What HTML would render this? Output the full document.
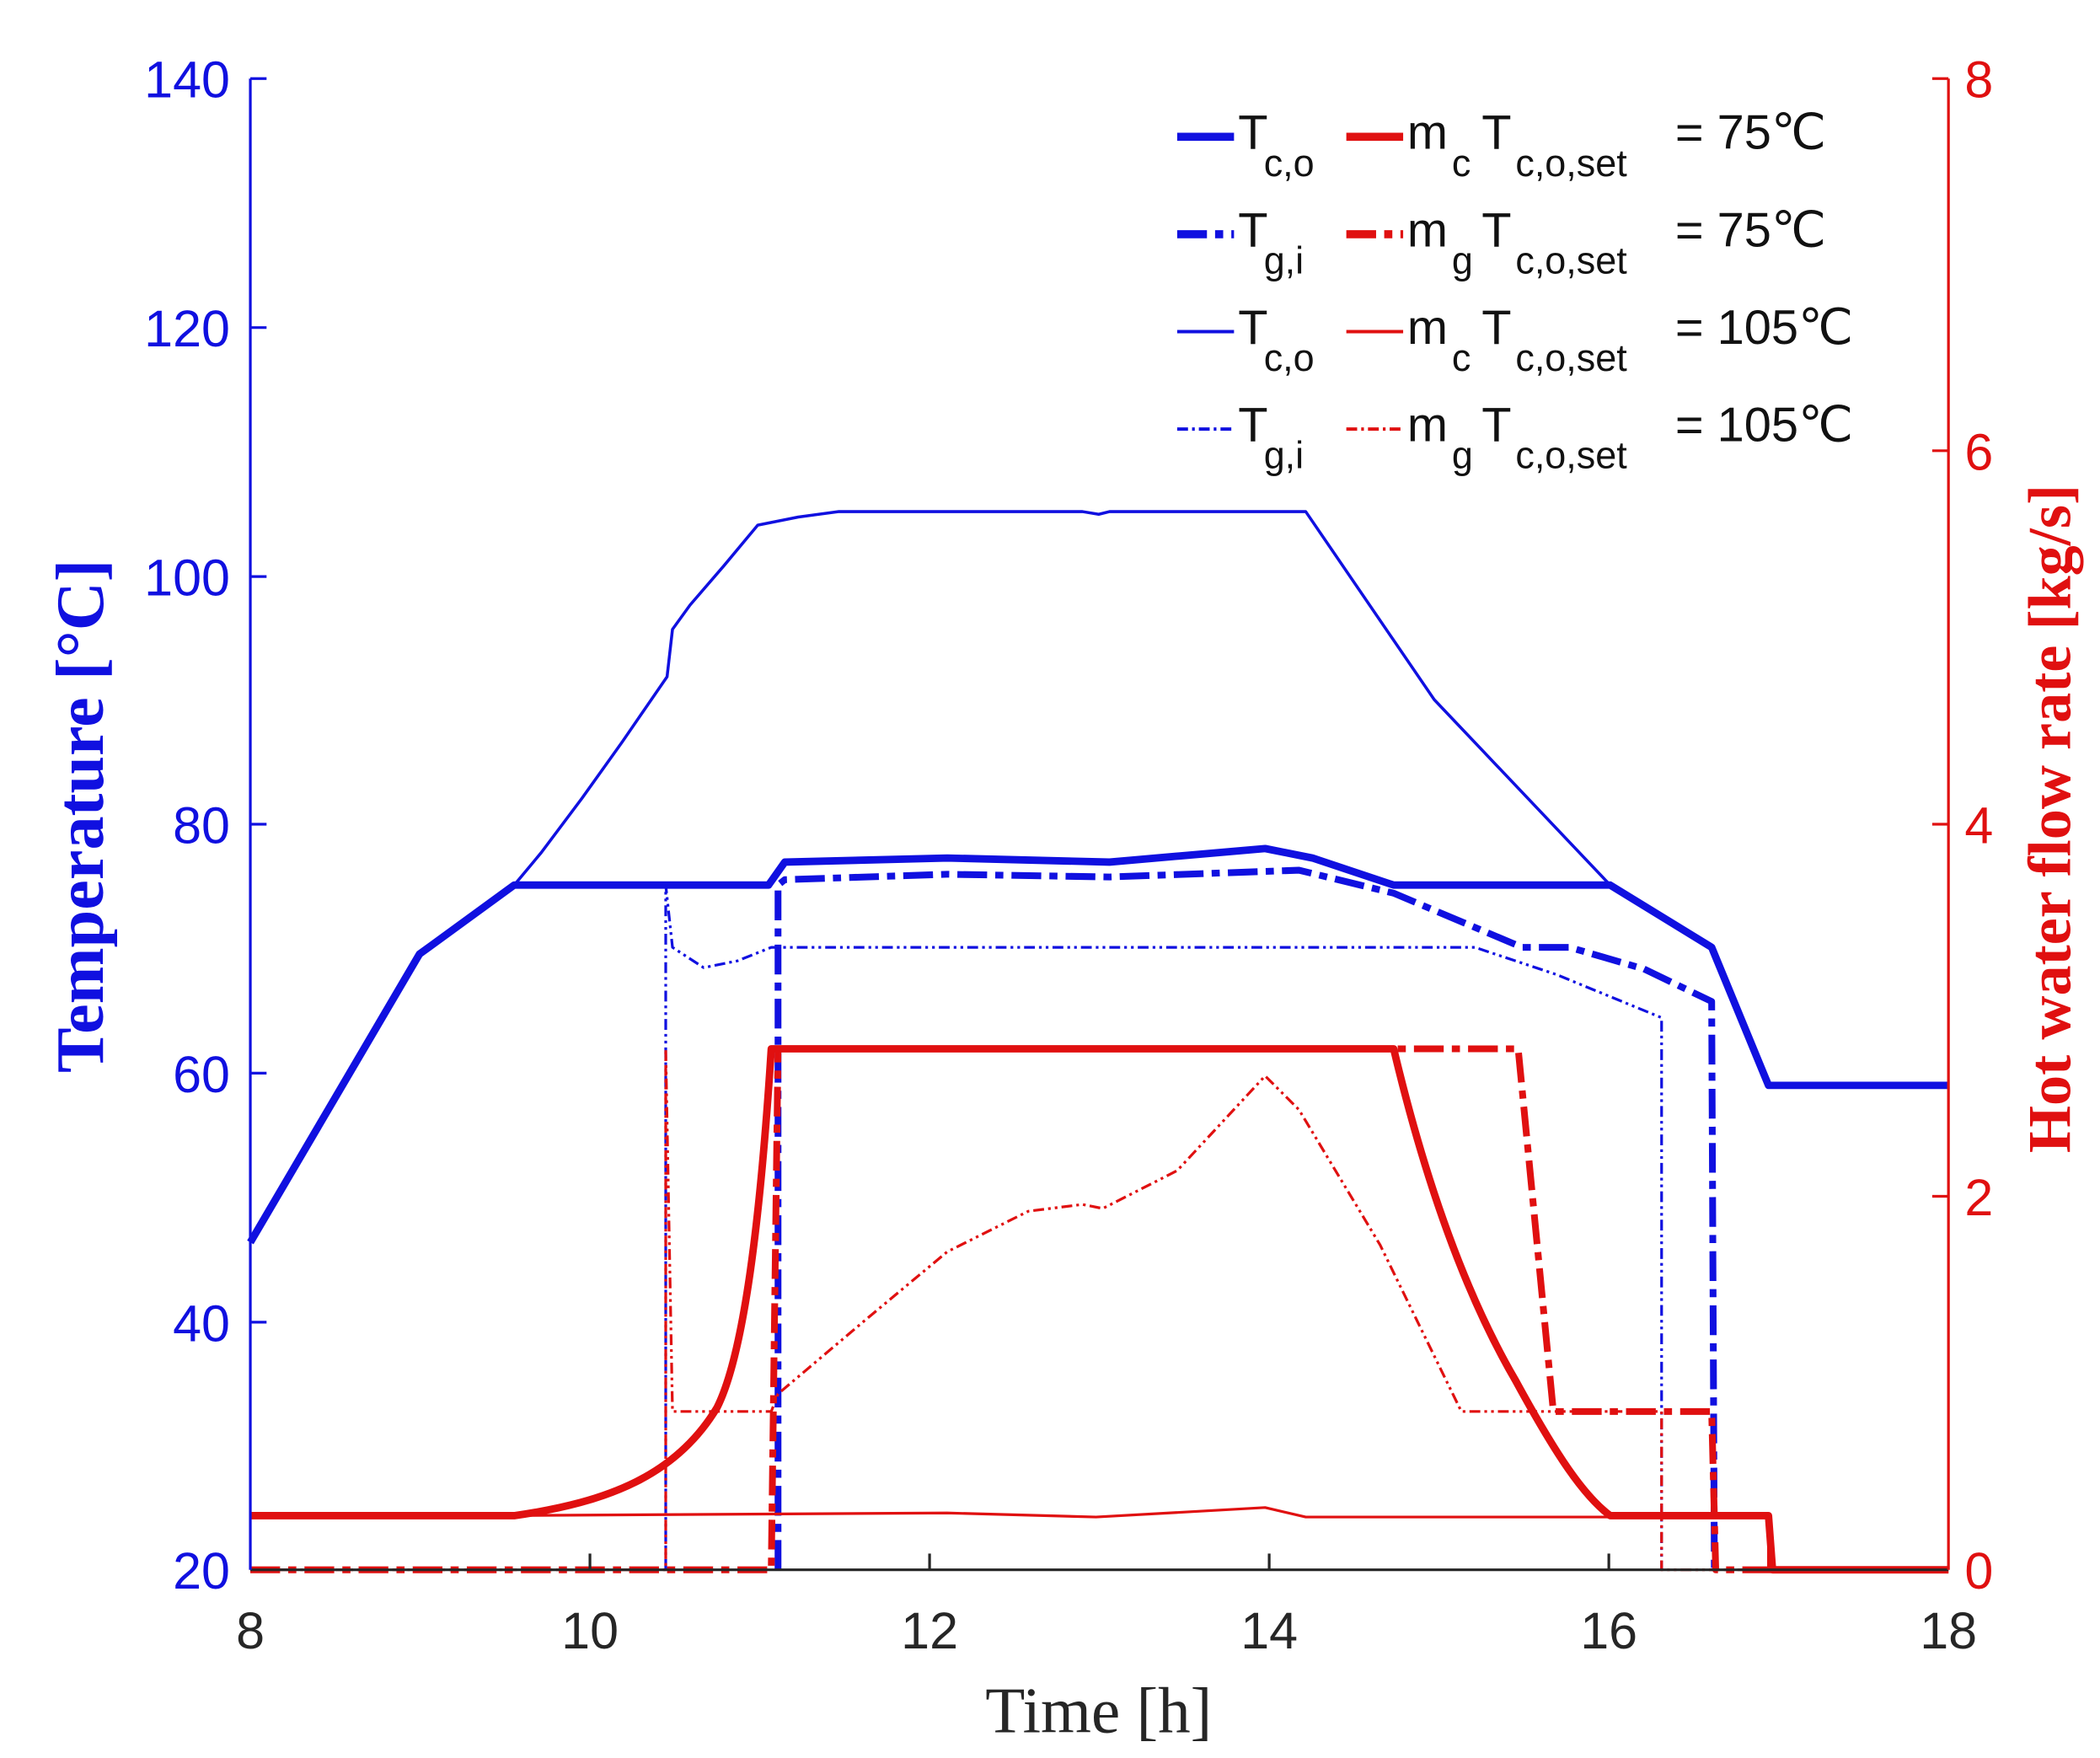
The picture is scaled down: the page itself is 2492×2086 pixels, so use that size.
<!DOCTYPE html>
<html><head><meta charset="utf-8"><style>
html,body{margin:0;padding:0;background:#fff}
svg{display:block}
text{font-family:"Liberation Sans",sans-serif}
.serif{font-family:"Liberation Serif",serif}
</style></head><body>
<svg width="2492" height="2086" viewBox="0 0 1552 1299" xmlns="http://www.w3.org/2000/svg">
<rect width="1552" height="1299" fill="#fff"/>
<g fill="none" stroke-linejoin="round">
<polyline stroke="#1010e0" stroke-width="2.2" points="185,918 310,705 380,654 400,630 430,590 460,548 493,500 497,465 510,447 535,418 560,388 590,382 620,378 800,378 812,380 820,378 965,378 1060,517 1190,654 1265,700 1307,802 1440,802"/>
<polyline stroke="#1010e0" stroke-width="2" stroke-dasharray="8,3,2,3,2,3" points="492,1160 492,654 497,700 520,715 545,710 570,700 1090,700 1150,720 1228,752 1228,1160"/>
<polyline stroke="#1010e0" stroke-width="5.5" points="185,918 310,705 380,654 568,654 580,637 700,634 820,637 935,627 970,634 1030,654 1190,654 1265,700 1307,802 1440,802"/>
<polyline stroke="#1010e0" stroke-width="5" stroke-dasharray="22,6,6,6" points="575,1160 575,654 580,650 700,646 820,648 960,643 1030,660 1125,700 1160,700 1215,716 1265,740 1267,1160"/>
<polyline stroke="#e01010" stroke-width="2" points="185,1121 700,1118 810,1121 935,1114 965,1121 1307,1121 1307,1160"/>
<polyline stroke="#e01010" stroke-width="2" stroke-dasharray="8,3,2,3,2,3" points="185,1160 492,1160 492,775 497,1043 570,1043 575,1030 640,975 700,925 760,895 800,890 815,893 870,865 935,795 960,820 1020,920 1080,1043 1228,1043 1228,1160 1440,1160"/>
<polyline stroke="#e01010" stroke-width="5" stroke-dasharray="22,6,6,6" points="185,1160 570,1160 575,775 1122,775 1148,1043 1265,1043 1268,1160 1440,1160"/>
<path stroke="#e01010" stroke-width="5.5" d="M185,1120 L380,1120 C450,1110 500,1090 530,1040 C550,1000 562,900 570,775 L1030,775 C1055,880 1085,960 1120,1020 C1150,1075 1170,1105 1190,1120 L1307,1120 L1310,1160 L1440,1160"/>
</g>
<line x1="185" y1="1160" x2="1440" y2="1160" stroke="#262626" stroke-width="2"/>
<line x1="185" y1="58" x2="185" y2="1160" stroke="#1010e0" stroke-width="2"/>
<line x1="1440" y1="58" x2="1440" y2="1160" stroke="#e01010" stroke-width="2"/>
<g stroke="#262626" stroke-width="2">
<line x1="436" y1="1160" x2="436" y2="1148"/><line x1="687" y1="1160" x2="687" y2="1148"/><line x1="938" y1="1160" x2="938" y2="1148"/><line x1="1189" y1="1160" x2="1189" y2="1148"/>
</g>
<g stroke="#1010e0" stroke-width="2">
<line x1="185" y1="58" x2="197" y2="58"/><line x1="185" y1="242" x2="197" y2="242"/><line x1="185" y1="426" x2="197" y2="426"/><line x1="185" y1="609" x2="197" y2="609"/><line x1="185" y1="793" x2="197" y2="793"/><line x1="185" y1="977" x2="197" y2="977"/>
</g>
<g stroke="#e01010" stroke-width="2">
<line x1="1428" y1="58" x2="1440" y2="58"/><line x1="1428" y1="333" x2="1440" y2="333"/><line x1="1428" y1="609" x2="1440" y2="609"/><line x1="1428" y1="884" x2="1440" y2="884"/>
</g>
<g fill="#1010e0" font-size="38" text-anchor="end">
<text x="170" y="72">140</text><text x="170" y="256">120</text><text x="170" y="440">100</text><text x="170" y="623">80</text><text x="170" y="807">60</text><text x="170" y="991">40</text><text x="170" y="1174">20</text>
</g>
<g fill="#e01010" font-size="38">
<text x="1452" y="72">8</text><text x="1452" y="347">6</text><text x="1452" y="623">4</text><text x="1452" y="898">2</text><text x="1452" y="1174">0</text>
</g>
<g fill="#262626" font-size="38" text-anchor="middle">
<text x="185" y="1218">8</text><text x="436" y="1218">10</text><text x="687" y="1218">12</text><text x="938" y="1218">14</text><text x="1189" y="1218">16</text><text x="1440" y="1218">18</text>
</g>
<text class="serif" x="812" y="1280" font-size="48" fill="#262626" text-anchor="middle">Time [h]</text>
<text class="serif" transform="translate(76,603) rotate(-90)" font-size="50" font-weight="bold" fill="#1010e0" text-anchor="middle">Temperature [°C]</text>
<text class="serif" transform="translate(1530,605) rotate(-90)" font-size="45" font-weight="bold" fill="#e01010" text-anchor="middle">Hot water flow rate [kg/s]</text>
<g font-size="36" fill="#111">
<g>
<line x1="870" y1="101" x2="912" y2="101" stroke="#1010e0" stroke-width="6"/>
<line x1="995" y1="101" x2="1037" y2="101" stroke="#e01010" stroke-width="6"/>
<text x="915" y="110">T</text><text x="934" y="130" font-size="28">c,o</text>
<text x="1040" y="110">m</text><text x="1073" y="130" font-size="28">c</text>
<text x="1095" y="110">T</text><text x="1120" y="130" font-size="28">c,o,set</text>
<text x="1238" y="110">= 75℃</text>
</g>
<g transform="translate(0,72)">
<line x1="870" y1="101" x2="912" y2="101" stroke="#1010e0" stroke-width="6" stroke-dasharray="22,6,6,6"/>
<line x1="995" y1="101" x2="1037" y2="101" stroke="#e01010" stroke-width="6" stroke-dasharray="22,6,6,6"/>
<text x="915" y="110">T</text><text x="934" y="130" font-size="28">g,i</text>
<text x="1040" y="110">m</text><text x="1073" y="130" font-size="28">g</text>
<text x="1095" y="110">T</text><text x="1120" y="130" font-size="28">c,o,set</text>
<text x="1238" y="110">= 75℃</text>
</g>
<g transform="translate(0,144)">
<line x1="870" y1="101" x2="912" y2="101" stroke="#1010e0" stroke-width="2.5"/>
<line x1="995" y1="101" x2="1037" y2="101" stroke="#e01010" stroke-width="2.5"/>
<text x="915" y="110">T</text><text x="934" y="130" font-size="28">c,o</text>
<text x="1040" y="110">m</text><text x="1073" y="130" font-size="28">c</text>
<text x="1095" y="110">T</text><text x="1120" y="130" font-size="28">c,o,set</text>
<text x="1238" y="110">= 105℃</text>
</g>
<g transform="translate(0,216)">
<line x1="870" y1="101" x2="912" y2="101" stroke="#1010e0" stroke-width="2.5" stroke-dasharray="8,3,2,3"/>
<line x1="995" y1="101" x2="1037" y2="101" stroke="#e01010" stroke-width="2.5" stroke-dasharray="8,3,2,3"/>
<text x="915" y="110">T</text><text x="934" y="130" font-size="28">g,i</text>
<text x="1040" y="110">m</text><text x="1073" y="130" font-size="28">g</text>
<text x="1095" y="110">T</text><text x="1120" y="130" font-size="28">c,o,set</text>
<text x="1238" y="110">= 105℃</text>
</g>
</g>
</svg>
</body></html>
